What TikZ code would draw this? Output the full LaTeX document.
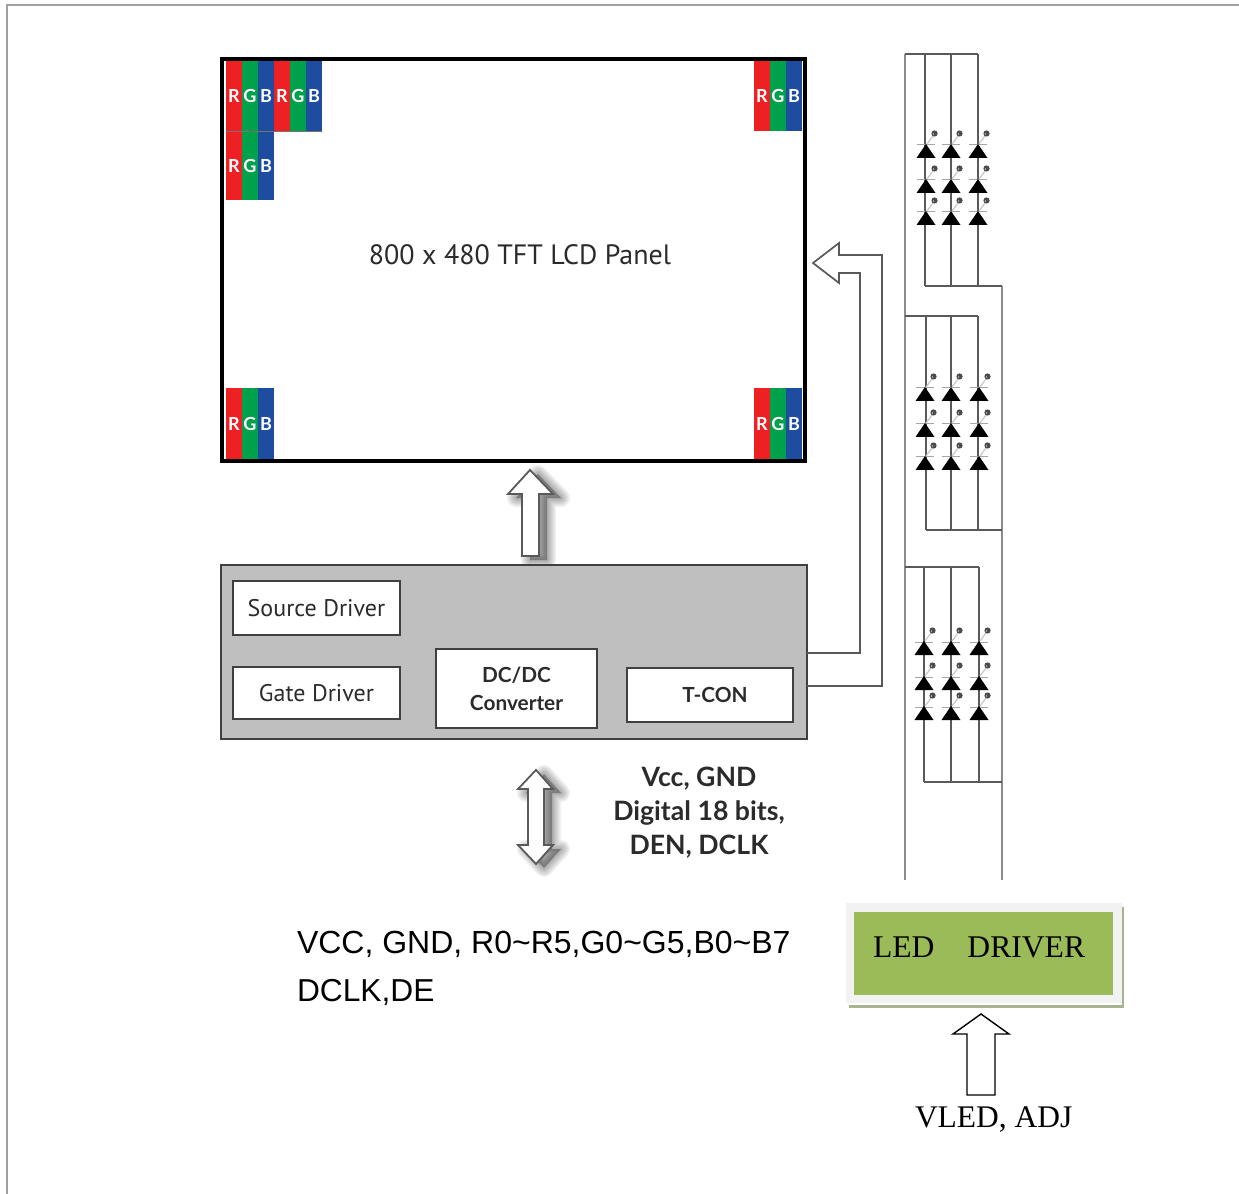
\documentclass[tikz,border=0pt]{standalone}
\usepackage{fontspec}
\setmainfont{Liberation Serif}
\newfontfamily\myr{PT Sans}
\newfontfamily\myb{Lato}
\newfontfamily\ari{Liberation Sans}
\definecolor{cR}{HTML}{ED2024}
\definecolor{cG}{HTML}{00A14B}
\definecolor{cB}{HTML}{1E4CA1}
\definecolor{frameG}{HTML}{A0A0A0}
\definecolor{boxG}{HTML}{BFBFBF}
\definecolor{ledG}{HTML}{9BBB59}
\definecolor{ledL}{HTML}{F2F2F2}
\definecolor{ledS}{HTML}{A8B48F}
\definecolor{txt}{HTML}{2B2B2B}
\newcommand{\px}{0.75pt}
\tikzset{
  x=0.75pt,y=-0.75pt,
  every node/.style={outer sep=0pt,inner sep=0pt},
  tile/.style={minimum width=16*\px,text=white,font=\myb\bfseries\fontsize{13.5}{15}\selectfont},
  subbox/.style={draw=black!75,fill=white,line width=1.8*\px,text=txt,align=center},
  subfont/.style={font=\myr\fontsize{18}{21}\selectfont},
  boldfont/.style={font=\myb\bfseries\fontsize{15.6}{21}\selectfont},
  wire/.style={draw=black!65,line width=1.6*\px},
  wireL/.style={draw=black!45,line width=2.4*\px},
  blockarrow/.style={draw=black!65,fill=white,line width=1.8*\px,line join=miter},
  ledbar/.style={draw=black!35,line width=1*\px},
  ledray/.style={draw=black!22,line width=1.2*\px},
  ledblob/.style={fill=black!70},
  pics/ledmark/.style={code={
    \draw[ledbar] (-9,0) -- (9,0);
    \draw[ledray] (1,-1) -- (7,-9);
    \fill[ledblob] (8.5,-11.5) circle[radius=3.1];
    \fill[white] (7.5,-11) circle[radius=0.7];
    \fill[black] (0,-1) -- (9.5,13) -- (-9.5,13) -- cycle;
  }}
}
\newcommand{\softshadow}[1]{%
  \foreach \w in {18,15,12,9,6,3}{%
    \draw[draw=black,fill=black,opacity=0.06,line width=\w*\px,line join=round,shift={(8,4)}] #1;
  }%
}
\newcommand{\uparrowshape}{(530,470) -- (553,494) -- (539,494) -- (539,556) -- (522,556) -- (522,494) -- (508,494) -- cycle}
\newcommand{\dblarrowshape}{(536,770) -- (553,789) -- (544,789) -- (544,845) -- (553,845) -- (536,864) -- (518,845) -- (528,845) -- (528,789) -- (518,789) -- cycle}
\newcommand{\rgbtile}[4]{% name, left x, center y, height
  \node[tile,fill=cR,minimum height=#4*\px] (#1r) at (#2+8,#3) {R};
  \node[tile,fill=cG,minimum height=#4*\px] (#1g) at (#2+24,#3) {G};
  \node[tile,fill=cB,minimum height=#4*\px] (#1b) at (#2+40,#3) {B};
}
\newcommand{\ledcolumn}[4]{% x, y1, y2, y3
  \pic at (#1,#2) {ledmark};
  \pic at (#1,#3) {ledmark};
  \pic at (#1,#4) {ledmark};
}
\begin{document}
\begin{tikzpicture}
\useasboundingbox (0,0) rectangle (1239,1194);
% page frame
\draw[frameG,line width=2*\px] (7,1194) -- (7,5) -- (1239,5);

% panel
\node[draw=black,fill=white,line width=4*\px,minimum width=583*\px,minimum height=402*\px] (panel) at (513.5,260) {};
\rgbtile{ta}{226}{96}{70}
\rgbtile{tb}{274}{96}{70}
\rgbtile{tc}{226}{165.5}{69}
\rgbtile{td}{754}{96}{70}
\rgbtile{te}{226}{423.5}{71}
\rgbtile{tf}{754}{423.5}{71}
\draw[black!55,line width=0.8*\px] (tcr.north west) -- (tbb.south east);
\node[text=txt,font=\myr\fontsize{21}{26}\selectfont] (paneltext) at (520,255) {800 x 480 TFT LCD Panel};

% arrow panel <- driver
\softshadow{\uparrowshape}
\draw[blockarrow] \uparrowshape;
\softshadow{\dblarrowshape}
\draw[blockarrow] \dblarrowshape;

% control box
\node[draw=black!75,fill=boxG,line width=2.6*\px,minimum width=586*\px,minimum height=174*\px] (ctrl) at (514,652) {};
\node[subbox,subfont,minimum width=167*\px,minimum height=54*\px] (source) at (316.5,608) {Source Driver};
\node[subbox,subfont,minimum width=167*\px,minimum height=52*\px] (gate) at (316.5,693) {Gate Driver};
\node[subbox,boldfont,minimum width=161*\px,minimum height=79*\px] (dcdc) at (516.5,688.5) {DC/DC\\Converter};
\node[subbox,boldfont,minimum width=166*\px,minimum height=54*\px] (tcon) at (710,695) {\hspace{7.5pt}T-CON};

% bus arrow
\coordinate (busouter) at (882,686);
\coordinate (businner) at (860,653);
\coordinate (bustip) at (813,263);
\draw[draw=black!65,line width=1.7*\px,line join=miter]
  (ctrl.east |- businner) -- (businner) -- (860,273) -- (839,273) -- (839,283)
  -- (bustip) -- (839,243) -- (839,255) -- (882,255) -- (busouter) -- (ctrl.east |- busouter);

% LED strip
\draw[wireL] (905,54) -- (905,880);
\draw[wire] (905,54) -- (978,54);
\draw[wireL] (1002,286) -- (1002,880);
\foreach \xa/\ya/\yb in {925/54/286,951/54/286,978/54/286,
                         926/316/530,951/316/530,978/316/530,
                         924/567/782,951/567/782,979/567/782}{
  \draw[wire] (\xa,\ya) -- (\xa,\yb);
}
\draw[wire] (925,286) -- (1002,286);
\draw[wire] (905,316) -- (978,316);
\draw[wire] (926,530) -- (1002,530);
\draw[wire] (905,567) -- (979,567);
\draw[wire] (924,782) -- (1002,782);
\ledcolumn{926}{145}{180}{212}
\ledcolumn{951}{145}{180}{212}
\ledcolumn{978}{145}{180}{212}
\ledcolumn{925}{388}{424}{457}
\ledcolumn{951}{388}{424}{457}
\ledcolumn{979}{388}{424}{457}
\ledcolumn{924}{642}{677}{707}
\ledcolumn{951}{642}{677}{707}
\ledcolumn{979}{642}{677}{707}

% bus labels
\node[text=txt,font=\myb\bfseries\fontsize{20}{25.5}\selectfont,align=center] (buslabel) at (699,812.5) {Vcc, GND\\Digital 18 bits,\\DEN, DCLK};

\node[anchor=base west,font=\ari\fontsize{24}{36}\selectfont] (sig1) at (297,953) {VCC, GND, R0\textasciitilde R5,G0\textasciitilde G5,B0\textasciitilde B7};
\node[anchor=base west,font=\ari\fontsize{23.8}{36}\selectfont] (sig2) at (297,1001) {DCLK,DE};

% LED driver
\fill[ledS] (849,907) rectangle (1124,1008);
\fill[white] (849,907) rectangle (1122,1005);
\node[fill=ledL,minimum width=276*\px,minimum height=100*\px] (ledouter) at (984,953) {};
\node[fill=ledG,minimum width=259*\px,minimum height=83*\px] (ledinner) at (983.5,953.5) {};
\node[anchor=base west,font=\fontsize{23.7}{28}\selectfont] (ledtext) at (873,957) {LED\hspace{24.8pt}DRIVER};
\coordinate (vledtip) at (981,1014);
\draw[draw=black,fill=white,line width=1.4*\px,line join=miter]
  (vledtip) -- (1009,1034) -- (995,1034) -- (995,1095) -- (967,1095) -- (967,1034) -- (953,1034) -- cycle;
\node[anchor=base west,font=\fontsize{23.6}{28}\selectfont] (vled) at (915,1127) {VLED, ADJ};
\end{tikzpicture}
\end{document}
